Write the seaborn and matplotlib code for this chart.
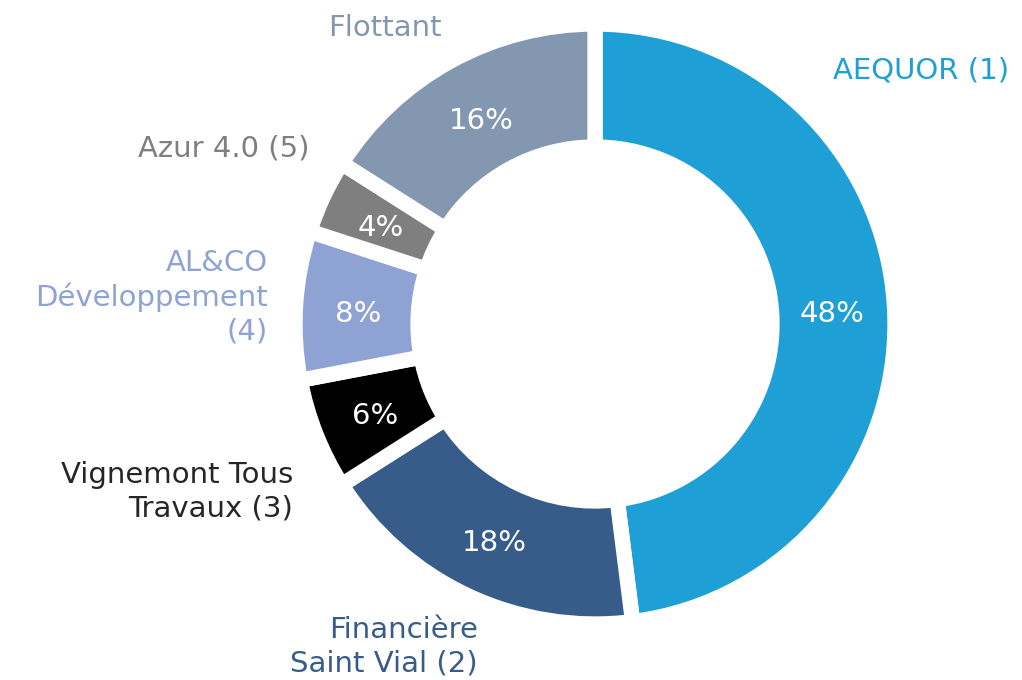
import matplotlib
matplotlib.use("Agg")
import matplotlib.pyplot as plt
import seaborn as sns

# ---- data ----
categories = ["AEQUOR (1)", "Financière\nSaint Vial (2)", "Vignemont Tous\nTravaux (3)",
              "AL&CO\nDéveloppement\n(4)", "Azur 4.0 (5)", "Flottant"]
shares = [48, 18, 6, 8, 4, 16]
slice_colors = ["#1E9FD6", "#375C8A", "#000000", "#8EA3D4", "#7F7F7F", "#8497B0"]
label_colors = ["#1E9FD6", "#375C8A", "#262626", "#8EA3D4", "#7F7F7F", "#8497B0"]

# label layout (pixel anchors, alignment)
label_px = [(833, 70, "left"), (478, 647, "right"), (293, 492, "right"),
            (268, 297, "right"), (310, 148, "right"), (385, 28, "center")]

sns.set_theme(style="white")
plt.rcParams['font.family'] = ['DejaVu Sans']

W, H = 1022, 680
fig = plt.figure(figsize=(W / 100, H / 100), dpi=100)
cx, cy, R = 595, 324, 300
ax = fig.add_axes([(cx - R) / W, (H - cy - R) / H, 2 * R / W, 2 * R / H])

wedges, texts, autotexts = ax.pie(
    shares, colors=slice_colors, startangle=90, counterclock=False, radius=1,
    autopct=lambda p: f"{p:.0f}%", pctdistance=0.79,
    wedgeprops=dict(width=0.41, edgecolor="white", linewidth=11),
    textprops=dict(color="white", fontsize=21),
)
ax.set_xlim(-1, 1)
ax.set_ylim(-1, 1)
ax.set_aspect("equal")
ax.axis("off")
for t in autotexts:
    t.set_color("white")
    x, y = t.get_position()
    t.set_position((x, y - 0.015))

for lab, col, (px, py, ha) in zip(categories, label_colors, label_px):
    ax.text((px - cx) / R, (cy - py) / R, lab, color=col, ha=ha, va="center",
            fontsize=21, fontweight="medium", linespacing=1.25, clip_on=False)

fig.savefig("out.png", dpi=100, facecolor="white")
